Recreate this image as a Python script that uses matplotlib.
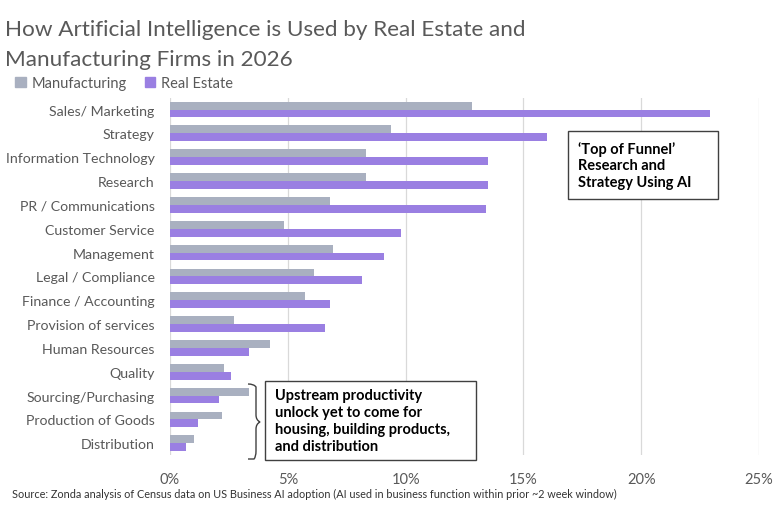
import matplotlib as mpl
mpl.use("Agg")
import matplotlib.pyplot as plt
import numpy as np
from matplotlib.patches import Patch, PathPatch, Rectangle
from matplotlib.path import Path

plt.rcParams["font.family"] = ["Lato", "DejaVu Sans"]

# data (percent of firms)
categories = ["Sales/ Marketing", "Strategy", "Information Technology", "Research",
              "PR / Communications", "Customer Service", "Management",
              "Legal / Compliance", "Finance / Accounting", "Provision of services",
              "Human Resources", "Quality", "Sourcing/Purchasing",
              "Production of Goods", "Distribution"]
manufacturing = [12.8, 9.4, 8.3, 8.3, 6.8, 4.85, 6.9, 6.1, 5.75, 2.7, 4.25, 2.3, 3.35, 2.2, 1.0]
real_estate = [22.9, 16.0, 13.5, 13.5, 13.4, 9.8, 9.1, 8.15, 6.8, 6.6, 3.35, 2.6, 2.1, 1.2, 0.7]
xticks = [0, 5, 10, 15, 20, 25]

GRAY = "#A9B0C0"
PURPLE = "#9A7FE2"
TEXT = "#595959"
EDGE = "#404040"

W, H = 780, 510
fig = plt.figure(figsize=(W / 100, H / 100), dpi=100)

def fx(px):
	return px / W

def fy(py):
	return 1 - py / H

# axes box in pixels: left 170, right 759, top 98.6, bottom 456.2
ax = fig.add_axes([fx(170), fy(456.2), fx(759) - fx(170), fy(98.6) - fy(456.2)])

y = np.arange(len(categories))
h = 0.33
ax.barh(y - h / 2, manufacturing, height=h, color=GRAY, zorder=3)
ax.barh(y + h / 2, real_estate, height=h, color=PURPLE, zorder=3)

ax.set_ylim(len(categories) - 0.5, -0.5)
ax.set_xlim(0, 25)
ax.set_yticks(y)
ax.set_yticklabels(categories, fontsize=10.2, color=TEXT)
ax.set_xticks(xticks)
ax.set_xticklabels(["%d%%" % t for t in xticks], fontsize=10.5, color=TEXT)
ax.tick_params(axis="both", length=0)
ax.tick_params(axis="y", pad=11)
ax.tick_params(axis="x", pad=12)
ax.grid(axis="x", color="#D9D9D9", linewidth=0.9, zorder=0)
for s in ax.spines.values():
	s.set_visible(False)

# title and legend
fig.text(fx(5), fy(20), "How Artificial Intelligence is Used by Real Estate and\nManufacturing Firms in 2026",
         fontsize=16.2, color=TEXT, va="top", ha="left", linespacing=1.62)
handles = [Patch(color=GRAY, label="Manufacturing"), Patch(color=PURPLE, label="Real Estate")]
fig.legend(handles=handles, loc="center left", bbox_to_anchor=(fx(15), fy(84)), ncol=2,
           frameon=False, fontsize=10.5, handlelength=0.75, handleheight=0.75,
           handletextpad=0.4, columnspacing=1.2, labelcolor=TEXT, borderaxespad=0, borderpad=0)

# annotation boxes
def note_box(x0, y0, x1, y1, text):
	fig.add_artist(Rectangle((fx(x0), fy(y1)), fx(x1) - fx(x0), fy(y0) - fy(y1),
	                         transform=fig.transFigure, facecolor="white", edgecolor=EDGE, linewidth=1.0))
	fig.text(fx(x0 + 10), fy((y0 + y1) / 2), text, fontsize=10.5, fontweight="bold", color="black",
	         va="center", ha="left", linespacing=1.25)

note_box(568, 132, 718, 200, "\u2018Top of Funnel\u2019\nResearch and\nStrategy Using AI")
note_box(265, 382, 476, 461, "Upstream productivity\nunlock yet to come for\nhousing, building products,\nand distribution")

# curly brace next to the upstream categories
pts = [(248, 385), (254, 385), (256, 388), (256, 394), (256, 416), (256, 421), (260, 423),
       (256, 425), (256, 430), (256, 452), (256, 458), (254, 460), (248, 460)]
codes = [Path.MOVETO, Path.CURVE3, Path.CURVE3, Path.LINETO, Path.LINETO, Path.CURVE3, Path.CURVE3,
         Path.CURVE3, Path.CURVE3, Path.LINETO, Path.CURVE3, Path.CURVE3, Path.LINETO]
brace = Path([(fx(a), fy(b)) for a, b in pts], codes)
fig.add_artist(PathPatch(brace, transform=fig.transFigure, facecolor="none", edgecolor=EDGE, linewidth=1.0))

fig.text(fx(12), fy(494), "Source: Zonda analysis of Census data on US Business AI adoption (AI used in business function within prior ~2 week window)",
         fontsize=7.8, color="#333333", va="center", ha="left")

fig.savefig("out.png", dpi=100, facecolor="white")
